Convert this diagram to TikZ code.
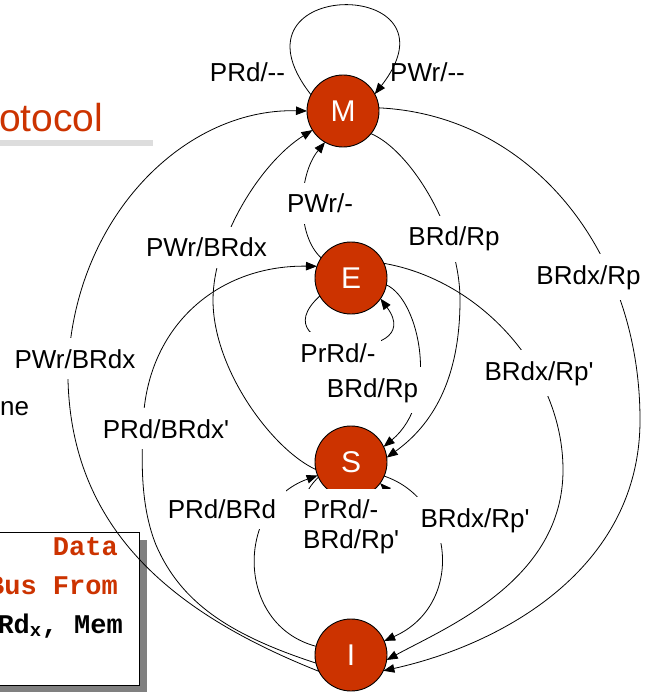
\documentclass[tikz,border=0pt]{standalone}
\usepackage{fontspec}
\setmainfont{Liberation Sans}
\newfontfamily\monobold{Liberation Mono}[BoldFont={* Bold}]
\usetikzlibrary{arrows.meta}
\definecolor{statered}{RGB}{204,51,0}
\definecolor{barbg}{RGB}{221,221,221}
\definecolor{shadowgray}{RGB}{128,128,128}
\newcommand{\dd}{{-}{-}}
\newcommand{\pr}{\textquotesingle}
\begin{document}
\begin{tikzpicture}[x=1pt,y=1pt,
  state/.style={circle, minimum size=72pt, inner sep=0pt, outer sep=0pt,
    fill=statered, draw=black, line width=0.9pt, text=white,
    font=\fontsize{30}{30}\selectfont},
  edge/.style={draw=black, line width=0.8pt, -{Triangle[length=11pt,width=8.5pt]}},
  lbl/.style={font=\fontsize{26}{29.5}\selectfont, anchor=base, inner sep=0pt},
  cut/.style={lbl, fill=white, inner xsep=5pt, inner ysep=11pt},
  monotxt/.style={font=\monobold\bfseries\fontsize{27}{27}\selectfont, anchor=base east, inner sep=0pt}]
\useasboundingbox (0,0) rectangle (647,-692);
\clip (0,0) rectangle (647,-692);

% slide title fragment and its rule
\node[anchor=base west, inner sep=0pt, text=statered, font=\fontsize{39}{39}\selectfont] (title) at (-1,-132) {otocol};
\fill[barbg] (0,-140) rectangle (153,-146);
\node[lbl, anchor=base west] (bodytxt) at (0,-415) {ne};

% call-out box with drop shadow
\fill[shadowgray] (-10,-540) rectangle (147,-700);
\draw[fill=white, line width=0.9pt] (-10,-532) rectangle (139,-685);
\node[monotxt, text=statered] (boxa) at (118,-555) {Data};
\node[monotxt, text=statered] (boxb) at (118,-594) {Bus From};
\node[monotxt, text=black] (boxc) at (123,-633) {BRd\textsubscript{x}, Mem};

% states
\node[state] (M) at (343,-111) {M};
\node[state] (E) at (351,-278) {E};
\node[state] (S) at (351,-462) {S};
\node[state] (I) at (351,-655) {I};

% M self loop
\draw[edge] (M.153) .. controls +(128:150) and +(52:150) .. (M.28);

% transitions into M
\draw[edge] (I.207) .. controls (180,-616) and (72,-535) .. (68,-380)
  .. controls (68,-225) and (180,-108) .. (M.180);
\draw[edge] (S.192) .. controls (273,-450) and (213,-370) .. (213,-300)
  .. controls (213,-240) and (260,-163) .. (M.212);
\draw[edge] (E.146) .. controls (296,-235) and (298,-175) .. (M.240);

% transitions into S
\draw[edge] (M.321) .. controls (410,-150) and (460,-230) .. (460,-300)
  .. controls (460,-380) and (432,-425) .. (S.7);
\draw[edge] (E.349) .. controls (420,-300) and (440,-400) .. (S.25);
\draw[edge] (I.166) .. controls (235,-625) and (235,-505) .. (S.202);

% transitions into I
\draw[edge] (E.24) .. controls (480,-280) and (563,-370) .. (563,-470)
  .. controls (563,-580) and (447,-627) .. (I.-8);
\draw[edge] (M.5) .. controls (530,-115) and (640,-250) .. (640,-420)
  .. controls (640,-570) and (500,-645) .. (I.-26);
\draw[edge] (S.337) .. controls (455,-500) and (465,-605) .. (I.23);

% transition into E
\draw[edge] (I.193) .. controls (230,-635) and (181,-603) .. (156,-545)
  .. controls (142,-510) and (141,-470) .. (143,-430)
  .. controls (143,-330) and (215,-265) .. (E.161);

% self loops on E and S
\draw[edge] (E.210) .. controls (255,-355) and (430,-365) .. (E.325);
\draw[edge] (S.205) .. controls (255,-540) and (440,-545) .. (S.324);

% transition labels
\node[lbl] (lMr) at (247.5,-82) {PRd/\dd};
\node[lbl] (lMw) at (427.5,-82) {PWr/\dd};
\node[cut] (lEM) at (320,-213) {PWr/-};
\node[cut] (lSM) at (206.5,-257) {PWr/BRdx};
\node[cut] (lIM) at (75,-368) {PWr/BRdx};
\node[cut] (lMS) at (454,-246) {BRd/Rp};
\node[cut] (lMI) at (588.5,-284) {BRdx/Rp};
\node[cut] (lEloop) at (338,-362) {PrRd/-};
\node[cut, inner xsep=8pt] (lES) at (372.5,-397) {BRd/Rp};
\node[cut] (lEI) at (539,-380) {BRdx/Rp\pr};
\node[cut, inner xsep=3pt] (lIE) at (166,-438) {PRd/BRdx\pr};
\node[cut, inner xsep=10pt] (lIS) at (222,-518) {PRd/BRd};
\node[cut] (lSI) at (475,-527) {BRdx/Rp\pr};
\node[cut, anchor=base west, align=left] (lSloop) at (298,-548) {PrRd/-\\BRd/Rp\pr};
\end{tikzpicture}
\end{document}
